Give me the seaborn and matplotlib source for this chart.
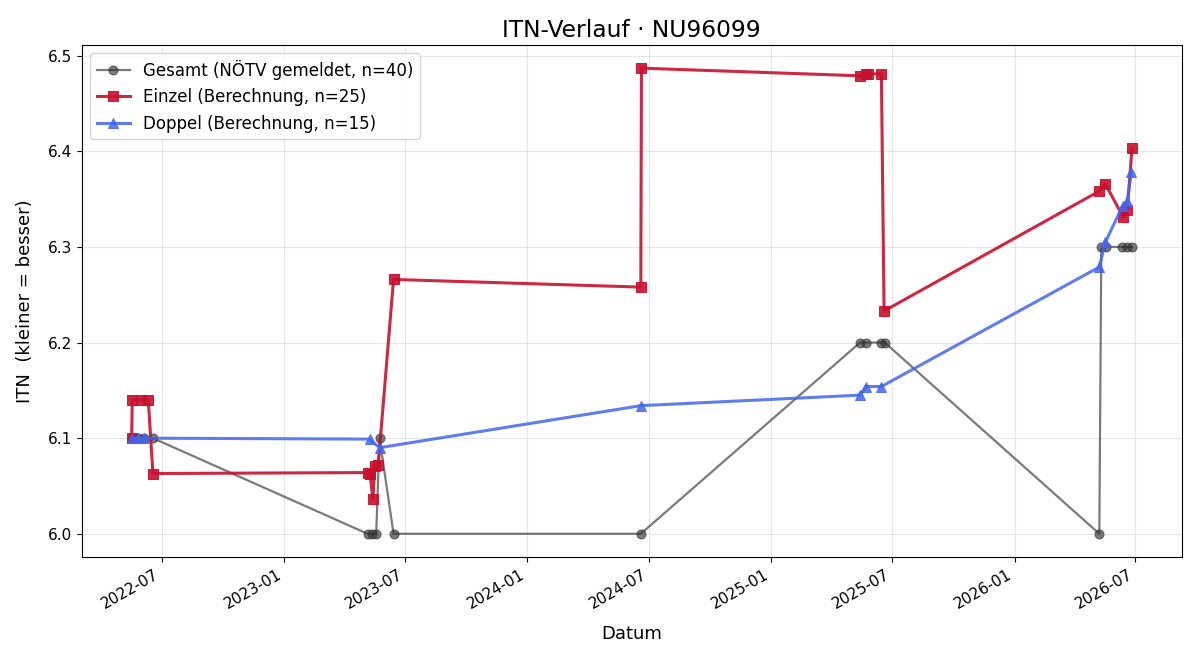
import matplotlib
matplotlib.use("Agg")
import matplotlib.pyplot as plt
import matplotlib.dates as mdates
import seaborn as sns
import pandas as pd

gesamt_dates = ["2022-05-18", "2022-05-27", "2022-06-05", "2022-06-18",
                "2023-05-06", "2023-05-13", "2023-05-19", "2023-05-24", "2023-06-14",
                "2024-06-19",
                "2025-05-14", "2025-05-23", "2025-06-15", "2025-06-20",
                "2026-05-08", "2026-05-11", "2026-05-18", "2026-06-11", "2026-06-19", "2026-06-26"]
gesamt_vals = [6.1, 6.1, 6.1, 6.1,
               6.0, 6.0, 6.0, 6.1, 6.0,
               6.0,
               6.2, 6.2, 6.2, 6.2,
               6.0, 6.3, 6.3, 6.3, 6.3, 6.3]

einzel_dates = ["2022-05-17", "2022-05-18", "2022-05-31", "2022-06-11", "2022-06-18",
                "2023-05-06", "2023-05-10", "2023-05-14", "2023-05-17", "2023-05-22", "2023-06-14",
                "2024-06-19", "2024-06-20",
                "2025-05-14", "2025-05-23", "2025-05-26", "2025-06-15", "2025-06-19",
                "2026-05-07", "2026-05-17", "2026-06-13", "2026-06-19", "2026-06-26"]
einzel_vals = [6.1, 6.14, 6.14, 6.14, 6.063,
               6.064, 6.062, 6.036, 6.071, 6.072, 6.266,
               6.258, 6.487,
               6.479, 6.481, 6.481, 6.481, 6.233,
               6.358, 6.366, 6.331, 6.339, 6.403]

doppel_dates = ["2022-05-18", "2022-05-26", "2022-06-04",
                "2023-05-09", "2023-05-24",
                "2024-06-19",
                "2025-05-14", "2025-05-23", "2025-06-15",
                "2026-05-08", "2026-05-17", "2026-06-12", "2026-06-19", "2026-06-25"]
doppel_vals = [6.1, 6.1, 6.1,
               6.099, 6.09,
               6.134,
               6.145, 6.154, 6.154,
               6.279, 6.305, 6.343, 6.348, 6.378]

labels = ["Gesamt (NÖTV gemeldet, n=40)", "Einzel (Berechnung, n=25)", "Doppel (Berechnung, n=15)"]

plt.rcParams['font.family'] = ['DejaVu Sans']

fig, ax = plt.subplots(figsize=(12, 6.6), dpi=100)

df_g = pd.DataFrame({"Datum": pd.to_datetime(gesamt_dates), "ITN": gesamt_vals})
df_e = pd.DataFrame({"Datum": pd.to_datetime(einzel_dates), "ITN": einzel_vals})
df_d = pd.DataFrame({"Datum": pd.to_datetime(doppel_dates), "ITN": doppel_vals})

sns.lineplot(data=df_g, x="Datum", y="ITN", ax=ax, estimator=None, color="#333333",
             alpha=0.65, marker="o", markersize=6.5, linewidth=1.6,
             markeredgecolor="#333333", label=labels[0])
sns.lineplot(data=df_e, x="Datum", y="ITN", ax=ax, estimator=None, color="#c8102e",
             alpha=0.9, marker="s", markersize=7, linewidth=2.2,
             markeredgecolor="#c8102e", label=labels[1])
sns.lineplot(data=df_d, x="Datum", y="ITN", ax=ax, estimator=None, color="#4466ee",
             alpha=0.85, marker="^", markersize=7, linewidth=2.2,
             markeredgecolor="#4466ee", label=labels[2])

ax.set_title("ITN-Verlauf · NU96099", fontsize=16.8)
ax.set_xlabel("Datum", fontsize=13, labelpad=10)
ax.set_ylabel("ITN  (kleiner = besser)", fontsize=13, labelpad=10)
ax.grid(True, alpha=0.3)
ax.xaxis.set_major_locator(mdates.MonthLocator(bymonth=[1, 7]))
ax.xaxis.set_major_formatter(mdates.DateFormatter("%Y-%m"))
ax.tick_params(axis="both", labelsize=11)
for lbl in ax.get_xticklabels():
    lbl.set_rotation(30)
    lbl.set_ha("right")
ax.legend(loc="upper left", fontsize=12, frameon=True)

plt.subplots_adjust(left=0.068, right=0.985, top=0.932, bottom=0.156)
fig.savefig("out.png", dpi=100)
